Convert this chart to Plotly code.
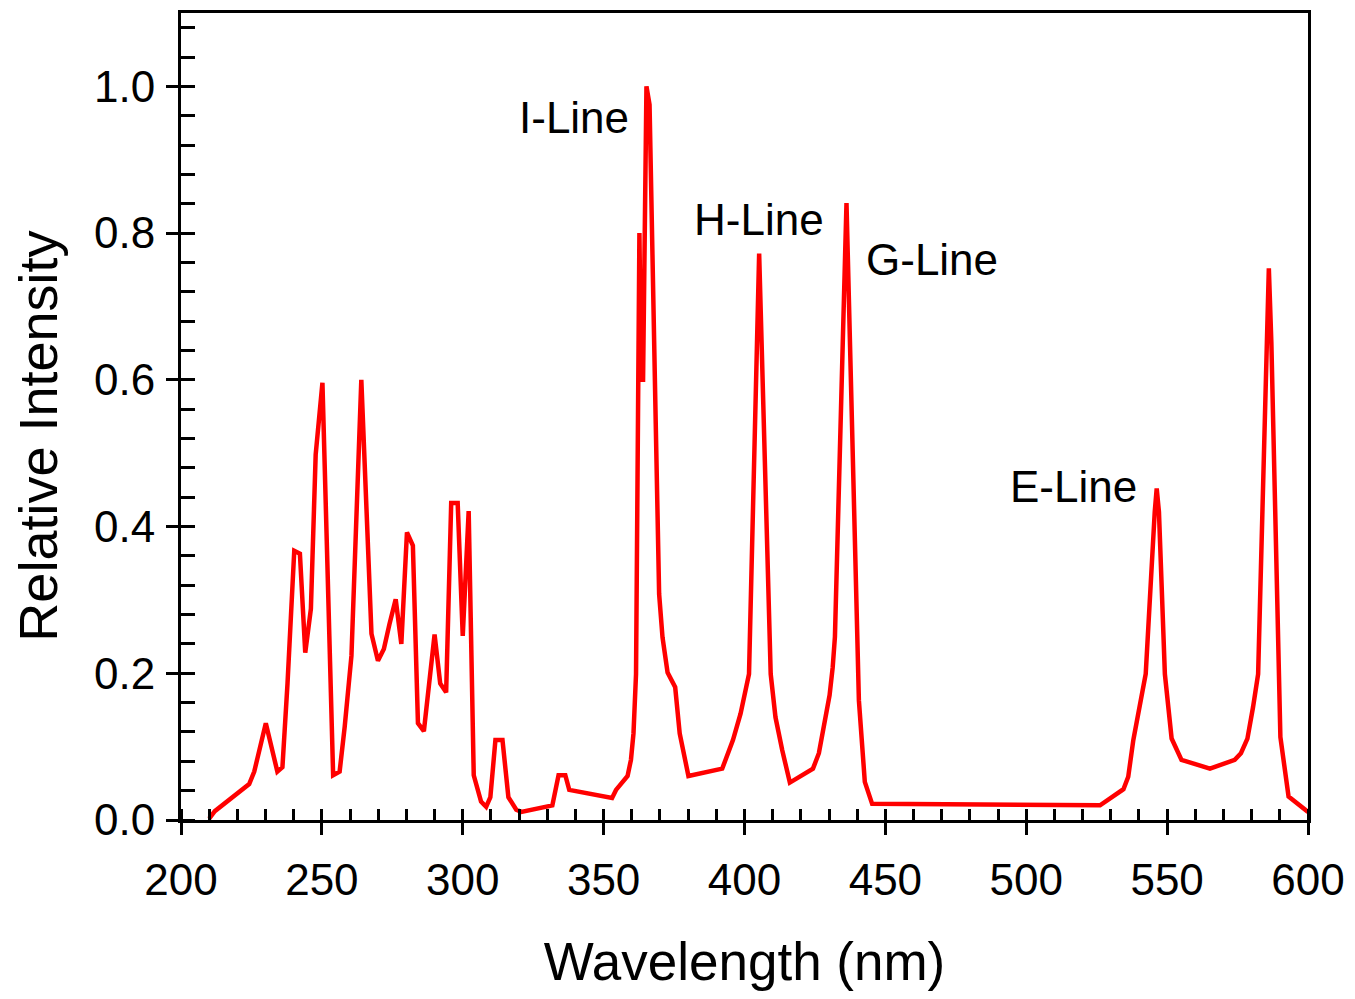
import plotly.graph_objects as go

# Wavelength (nm) and relative intensity
wavelength = [210.0, 212.0, 224.2, 226.0, 230.1, 234.2, 236.0, 237.8, 240.2, 242.2,
              244.1, 246.1, 247.8, 250.2, 254.0, 256.3, 258.1, 260.5, 264.0, 267.6,
              269.9, 272.0, 274.0, 276.2, 278.2, 280.2, 282.3, 284.1, 286.2, 290.0,
              292.0, 294.1, 295.9, 298.2, 300.0, 302.1, 303.9, 306.5, 308.3, 309.8,
              311.6, 314.1, 316.2, 319.0, 320.8, 331.8, 334.0, 336.4, 337.8, 353.0,
              354.4, 358.5, 359.7, 360.6, 361.5, 362.7, 363.3, 364.0, 365.2, 366.3,
              368.5, 369.7, 370.9, 372.7, 375.4, 377.0, 380.1, 392.1, 395.9, 398.6,
              401.6, 405.2, 409.3, 411.0, 413.4, 416.1, 424.3, 426.4, 430.2, 431.3,
              432.1, 436.2, 440.6, 442.7, 445.3, 526.2, 534.5, 536.2, 538.0, 540.9,
              542.4, 545.6, 546.3, 547.1, 549.2, 551.6, 555.1, 565.2, 574.0, 576.2,
              578.5, 580.5, 582.3, 586.1, 587.0, 590.2, 591.6, 593.1, 600.0]
intensity = [0.002, 0.012, 0.049, 0.066, 0.132, 0.066, 0.072, 0.186, 0.367, 0.363,
             0.228, 0.288, 0.498, 0.596, 0.061, 0.066, 0.127, 0.224, 0.600, 0.254,
             0.217, 0.233, 0.267, 0.301, 0.240, 0.392, 0.374, 0.132, 0.121, 0.253,
             0.186, 0.174, 0.432, 0.432, 0.251, 0.421, 0.061, 0.025, 0.018, 0.031,
             0.109, 0.109, 0.031, 0.014, 0.011, 0.020, 0.061, 0.061, 0.041, 0.030,
             0.041, 0.060, 0.082, 0.118, 0.199, 0.800, 0.600, 0.600, 1.000, 0.975,
             0.540, 0.308, 0.249, 0.201, 0.181, 0.118, 0.060, 0.070, 0.109, 0.145,
             0.199, 0.772, 0.199, 0.140, 0.095, 0.051, 0.070, 0.091, 0.170, 0.208,
             0.250, 0.841, 0.163, 0.052, 0.022, 0.020, 0.042, 0.059, 0.109, 0.168,
             0.199, 0.420, 0.452, 0.420, 0.199, 0.111, 0.082, 0.070, 0.082, 0.091,
             0.111, 0.154, 0.199, 0.752, 0.650, 0.113, 0.068, 0.032, 0.011]

line_labels = ["I-Line", "H-Line", "G-Line", "E-Line"]
label_x = [339.6, 405.1, 466.4, 516.7]
label_y = [0.958, 0.818, 0.764, 0.454]

x_ticks = [200, 250, 300, 350, 400, 450, 500, 550, 600]
y_ticks = [0.0, 0.2, 0.4, 0.6, 0.8, 1.0]
y_tick_text = ["0.0", "0.2", "0.4", "0.6", "0.8", "1.0"]

FONT = "Liberation Sans, Arial, Helvetica, sans-serif"

fig = go.Figure()
fig.add_trace(go.Scatter(x=wavelength, y=intensity, mode="lines",
                         line=dict(color="#ff0000", width=4.5),
                         showlegend=False, hoverinfo="x+y"))

for t, lx, ly in zip(line_labels, label_x, label_y):
    fig.add_annotation(x=lx, y=ly, xref="x", yref="y", text=t, showarrow=False,
                       font=dict(family=FONT, size=44, color="black"))

# y-axis title placed as a rotated annotation to match the reference position
fig.add_annotation(x=-0.1267, y=0.4753, xref="paper", yref="paper",
                   text="Relative Intensity", textangle=-90, showarrow=False,
                   xanchor="center", yanchor="middle",
                   font=dict(family=FONT, size=54, color="black"))

fig.update_layout(
    width=1339, height=983,
    margin=dict(l=173, r=37, t=2, b=171),
    paper_bgcolor="white", plot_bgcolor="white",
    font=dict(family=FONT, color="black"),
    xaxis=dict(
        range=[200, 600], tickvals=x_ticks, ticktext=[str(v) for v in x_ticks],
        ticks="outside", ticklen=12, tickwidth=2.5, tickcolor="black",
        minor=dict(dtick=10, ticks="inside", ticklen=11, tickwidth=2.5, tickcolor="black", showgrid=False),
        showline=True, linewidth=3, linecolor="black", mirror=True,
        showgrid=False, zeroline=False,
        tickfont=dict(size=44, family=FONT, color="black"),
        ticklabelstandoff=7,
        title=dict(text="Wavelength (nm)", font=dict(size=53, family=FONT, color="black"), standoff=44),
    ),
    yaxis=dict(
        range=[0, 1.1], tickvals=y_ticks, ticktext=y_tick_text,
        ticks="outside", ticklen=12, tickwidth=2.5, tickcolor="black",
        minor=dict(dtick=0.04, tick0=0, ticks="inside", ticklen=14, tickwidth=2.5, tickcolor="black", showgrid=False),
        showline=True, linewidth=3, linecolor="black", mirror=True,
        showgrid=False, zeroline=False,
        tickfont=dict(size=44, family=FONT, color="black"),
        ticklabelstandoff=2,
    ),
    xaxis2=dict(
        range=[200, 600], overlaying="x", anchor="y", side="bottom",
        tickvals=x_ticks, ticks="inside", ticklen=14, tickwidth=2.5, tickcolor="black",
        showticklabels=False, showline=False, showgrid=False, zeroline=False,
    ),
    yaxis2=dict(
        range=[0, 1.1], overlaying="y", anchor="x", side="left",
        tickvals=y_ticks, ticks="inside", ticklen=14, tickwidth=2.5, tickcolor="black",
        showticklabels=False, showline=False, showgrid=False, zeroline=False,
    ),
)

fig.write_html("out.html")
